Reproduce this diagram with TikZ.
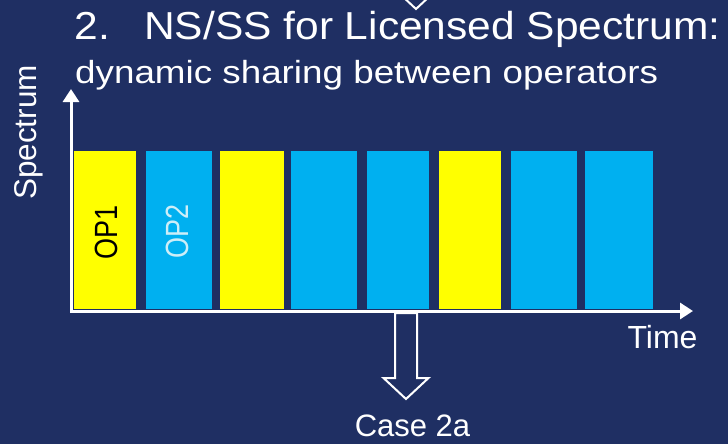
\documentclass[tikz,border=0pt]{standalone}
\usepackage{fontspec}
\setmainfont{Liberation Sans}
\usetikzlibrary{arrows.meta}
\definecolor{navy}{RGB}{31,47,99}
\definecolor{opyellow}{RGB}{255,255,0}
\definecolor{opcyan}{RGB}{0,176,240}
\definecolor{palecyan}{RGB}{205,238,248}
\newcommand{\fsz}[1]{\fontsize{#1}{#1}\selectfont}
% hollow block arrow pointing down: x centre, top y, tip y
\newcommand{\hollowdown}[3]{%
  \draw[hollow] (#1-11,#2) -- (#1+11,#2) -- (#1+11,#3-21) -- (#1+22.5,#3-21)
    -- (#1,#3) -- (#1-22.5,#3-21) -- (#1-11,#3-21) -- cycle;}
\begin{document}
\begin{tikzpicture}[x=1pt,y=-1pt,
  txt/.style={inner sep=0pt, text=white},
  bar/.style={draw=none, inner sep=0pt, minimum height=158pt},
  axis/.style={white, line width=3pt, line join=miter,
    {Triangle[width=16pt,length=13pt]}-{Triangle[width=16pt,length=13pt]}},
  hollow/.style={draw=white, fill=navy, line width=2pt, line join=miter}]
\fill[navy] (0,0) rectangle (728,444);
\useasboundingbox (0,0) rectangle (728,444);
\clip (0,0) rectangle (728,444);

% title lines
\node[txt, anchor=base west, font=\fsz{39}] (num) at (74.5,40) {\scalebox{1.09}[1]{2.}};
\node[txt, anchor=base west, font=\fsz{39}] (title) at (144,40)
  {\scalebox{1.09}[1]{NS/SS for Licensed Spectrum:}};
\node[txt, anchor=base west, font=\fsz{32}] (sub) at (75,83)
  {\scalebox{1.15}[1]{dynamic sharing between operators}};

% arrow coming in from above
\hollowdown{416}{-60}{9}

% time slots
\node[bar, fill=opyellow, minimum width=62pt] (b1) at (105,230) {};
\node[bar, fill=opcyan,   minimum width=66pt] (b2) at (179,230) {};
\node[bar, fill=opyellow, minimum width=64pt] (b3) at (252,230) {};
\node[bar, fill=opcyan,   minimum width=66pt] (b4) at (324,230) {};
\node[bar, fill=opcyan,   minimum width=62pt] (b5) at (398,230) {};
\node[bar, fill=opyellow, minimum width=62pt] (b6) at (470,230) {};
\node[bar, fill=opcyan,   minimum width=66pt] (b7) at (544,230) {};
\node[bar, fill=opcyan,   minimum width=68pt] (b8) at (619,230) {};

\node[inner sep=0pt, anchor=base, rotate=90, font=\fsz{27}, text=black] (op1)
  at (117,232) {\scalebox{1}[1.19]{OP1}};
\node[inner sep=0pt, anchor=base, rotate=90, font=\fsz{27}, text=palecyan] (op2)
  at (188,231.5) {\scalebox{1}[1.19]{OP2}};

% axes
\coordinate (o) at (71,311);
\coordinate (ytip) at (71,89);
\coordinate (xtip) at (693,311);
\draw[axis] (ytip) -- (o) -- (xtip);
\node[txt, anchor=base, rotate=90, font=\fsz{31.5}] (ylab) at (36,132.5) {Spectrum};
\node[txt, anchor=base, font=\fsz{32}] (xlab) at (662.5,348) {Time};

% outcome
\hollowdown{406}{313}{399}
\node[txt, anchor=base, font=\fsz{31}] (case) at (412.5,436) {Case 2a};
\end{tikzpicture}
\end{document}
